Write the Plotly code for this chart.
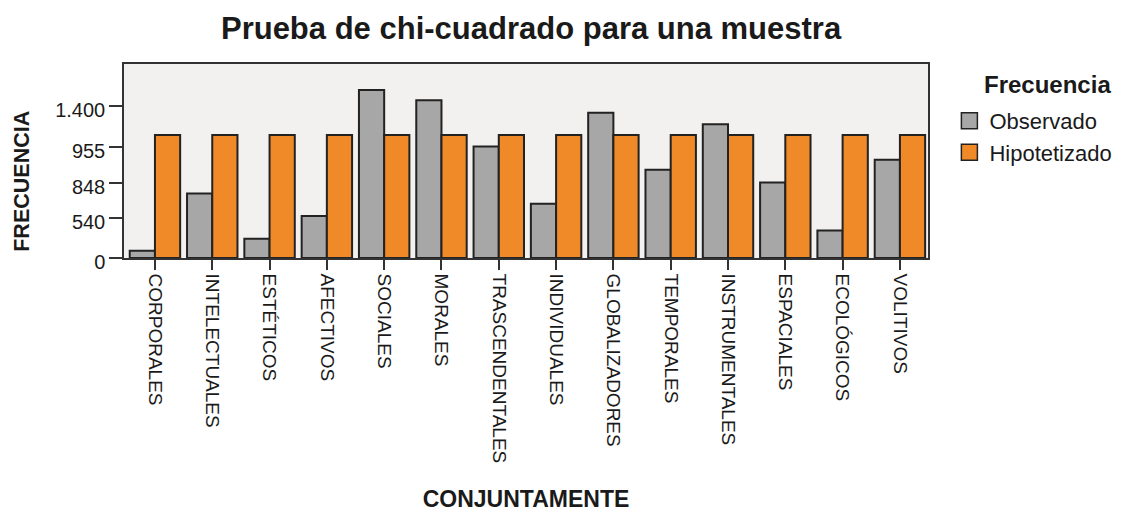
import plotly.graph_objects as go

categories = ["CORPORALES", "INTELECTUALES", "ESTÉTICOS", "AFECTIVOS", "SOCIALES",
              "MORALES", "TRASCENDENTALES", "INDIVIDUALES", "GLOBALIZADORES",
              "TEMPORALES", "INSTRUMENTALES", "ESPACIALES", "ECOLÓGICOS", "VOLITIVOS"]
observado = [67, 594, 177, 386, 1547, 1452, 1026, 499, 1338, 812, 1232, 695, 254, 904]
hipotetizado = [1133] * 14
ytick_vals = [0, 370, 692, 1023, 1400]
ytick_text = ["0", "540", "848", "955", "1.400"]

FONT = "Liberation Sans, Arial, sans-serif"
TXT = "#1a1a1a"
GRAY = "#a7a7a7"
ORANGE = "#f08a28"
EDGE = "#222222"

fig = go.Figure()
fig.add_trace(go.Bar(x=categories, y=observado, name="Observado",
                     marker=dict(color=GRAY, line=dict(color=EDGE, width=2)),
                     showlegend=False))
fig.add_trace(go.Bar(x=categories, y=hipotetizado, name="Hipotetizado",
                     marker=dict(color=ORANGE, line=dict(color=EDGE, width=2)),
                     showlegend=False))
# legend entries
for name, col in [("Observado", GRAY), ("Hipotetizado", ORANGE)]:
    fig.add_trace(go.Scatter(x=[None], y=[None], mode="markers", name=name,
                             marker=dict(symbol="square", size=24, color=col,
                                         line=dict(color=EDGE, width=1.5))))

fig.update_layout(
    width=1121, height=512,
    margin=dict(l=116, r=197, t=56, b=262),
    paper_bgcolor="white",
    plot_bgcolor="#f2f1f0",
    barmode="group",
    bargap=0.12,
    bargroupgap=0,
    font=dict(family=FONT, color=TXT),
    title=dict(text="<b>Prueba de chi-cuadrado para una muestra</b>",
               x=0.4666, xanchor="center", y=0.96, yanchor="middle",
               font=dict(size=31, family=FONT, color=TXT)),
    legend=dict(x=1.0266, xanchor="left", y=0.8147, yanchor="top",
                font=dict(size=22, family=FONT, color=TXT),
                bgcolor="rgba(0,0,0,0)", tracegroupgap=0, itemwidth=30),
    annotations=[
        dict(text="<b>FRECUENCIA</b>", xref="paper", yref="paper",
             x=-0.1269, y=0.398, textangle=-90, showarrow=False,
             xanchor="center", yanchor="middle",
             font=dict(size=21.5, family=FONT, color=TXT)),
        dict(text="<b>Frecuencia</b>", xref="paper", yref="paper",
             x=1.1485, y=0.892, showarrow=False,
             xanchor="center", yanchor="middle",
             font=dict(size=24, family=FONT, color=TXT)),
    ],
)
fig.update_xaxes(
    type="category", range=[-0.54, 13.49],
    tickangle=90, tickfont=dict(size=19, family=FONT, color=TXT),
    ticks="outside", ticklen=10, tickwidth=1.5, tickcolor="#333",
    showline=True, linecolor="#333", linewidth=1.5, mirror=True,
    showgrid=False, automargin=False,
    title=dict(text="<b>CONJUNTAMENTE</b>", font=dict(size=23, family=FONT, color=TXT),
               standoff=29),
)
fig.update_yaxes(
    range=[0, 1786], tickvals=ytick_vals, ticktext=ytick_text,
    tickfont=dict(size=20, family=FONT, color=TXT),
    ticks="outside", ticklen=13, tickwidth=1.5, tickcolor="#333",
    ticklabelshift=4,
    showline=True, linecolor="#333", linewidth=1.5, mirror=True,
    showgrid=False, zeroline=False, automargin=False,
)

fig.write_html("out.html")
